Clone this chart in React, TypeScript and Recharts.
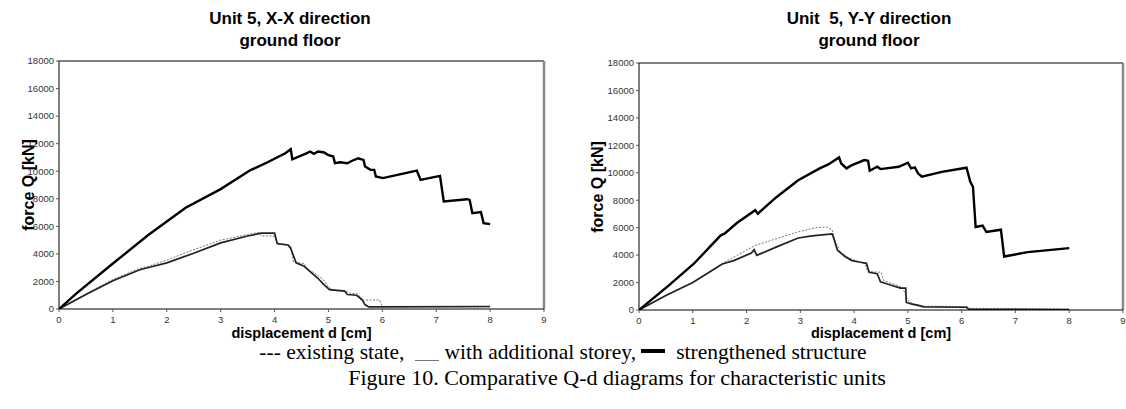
import React from "react";
import { LineChart, Line, XAxis, YAxis, ReferenceLine } from "recharts";

// displacement ticks [cm] and force ticks [kN]
const dTicks = [0, 1, 2, 3, 4, 5, 6, 7, 8, 9];
const qTicks = [0, 2000, 4000, 6000, 8000, 10000, 12000, 14000, 16000, 18000];

// Unit 5, X-X direction — [d, Q]
const xxStrengthened = [
  [0, 0], [0.33, 1150], [1, 3300], [1.65, 5350], [2, 6350], [2.35, 7350], [3, 8700],
  [3.54, 10050], [3.87, 10650], [4.2, 11300], [4.3, 11600], [4.33, 10870], [4.59, 11300],
  [4.66, 11430], [4.73, 11260], [4.81, 11430], [4.92, 11360], [4.99, 11190], [5.09, 11070],
  [5.12, 10580], [5.22, 10650], [5.35, 10580], [5.45, 10780], [5.55, 10940], [5.65, 10820],
  [5.68, 10340], [5.78, 10100], [5.85, 10100], [5.88, 9620], [6.01, 9500], [6.64, 10050],
  [6.71, 9370], [7.07, 9660], [7.14, 7800], [7.57, 7970], [7.62, 7920], [7.67, 6960],
  [7.83, 7030], [7.88, 6230], [8, 6160],
];
const xxStorey = [
  [0, 0], [0.5, 1050], [1, 2050], [1.5, 2850], [1.7, 3050], [2, 3350], [2.5, 4050], [3, 4800],
  [3.5, 5300], [3.75, 5500], [4.0, 5500], [4.05, 4750], [4.25, 4650], [4.3, 4400], [4.4, 3350],
  [4.55, 3100], [4.65, 2750], [4.8, 2250], [4.92, 1750], [5.02, 1400], [5.3, 1300], [5.35, 1050],
  [5.52, 1000], [5.62, 700], [5.68, 300], [5.75, 150], [8, 180],
];
const xxExisting = [
  [0, 0], [0.5, 1100], [1, 2150], [1.5, 2950], [1.7, 3150], [2, 3550], [2.5, 4300], [3, 5000],
  [3.5, 5400], [3.7, 5550], [3.75, 5300], [4.0, 5300], [4.05, 4700], [4.3, 4600], [4.35, 3400],
  [4.55, 3300], [4.6, 2900], [4.75, 2600], [4.9, 2150], [5.0, 1600], [5.1, 1350], [5.3, 1350],
  [5.4, 1150], [5.55, 1100], [5.6, 650], [5.95, 650], [6.0, 150], [8, 150],
];

// Unit 5, Y-Y direction — [d, Q]
const yyStrengthened = [
  [0, 0], [0.55, 1780], [1.02, 3370], [1.52, 5440], [1.59, 5560], [1.82, 6340], [2.16, 7270],
  [2.21, 7020], [2.56, 8240], [2.96, 9460], [3.36, 10320], [3.52, 10610], [3.72, 11120],
  [3.76, 10680], [3.86, 10320], [3.96, 10560], [4.19, 10930], [4.26, 10880], [4.29, 10150],
  [4.43, 10440], [4.49, 10270], [4.83, 10440], [5.0, 10730], [5.06, 10320], [5.13, 10390],
  [5.19, 9950], [5.26, 9710], [5.63, 10070], [6.09, 10370], [6.16, 9340], [6.21, 8980],
  [6.26, 6050], [6.39, 6150], [6.46, 5680], [6.73, 5850], [6.79, 3900], [7.23, 4220], [8, 4510],
];
const yyStorey = [
  [0, 0], [0.5, 1050], [1, 2000], [1.55, 3350], [1.76, 3600], [2.09, 4150], [2.14, 4400],
  [2.19, 3980], [2.56, 4600], [2.96, 5250], [3.22, 5400], [3.59, 5550], [3.62, 5250], [3.69, 4350],
  [3.83, 3900], [3.96, 3600], [4.09, 3500], [4.23, 3400], [4.28, 2750], [4.43, 2650], [4.49, 2050],
  [4.69, 1800], [4.86, 1600], [4.96, 1600], [4.97, 550], [5.06, 450], [5.23, 300], [5.29, 230],
  [6.09, 200], [6.13, 70], [8, 30],
];
const yyExisting = [
  [0, 0], [0.5, 1050], [1, 2000], [1.55, 3400], [2.16, 4700], [2.56, 5200], [2.96, 5700],
  [3.29, 6000], [3.49, 6050], [3.59, 5850], [3.65, 5000], [3.75, 4200], [3.9, 3800], [4.1, 3500],
  [4.2, 3400], [4.25, 2800], [4.5, 2750], [4.55, 2150], [4.9, 1650], [5.0, 700], [5.1, 450],
  [5.3, 280], [6.1, 250], [6.15, 120], [8, 60],
];

const toPts = (arr: number[][]) => arr.map(([d, q]) => ({ d, q }));

const sans = "'Liberation Sans', Arial, sans-serif";
const serif = "'Liberation Serif', 'Times New Roman', serif";

function Panel(props: any) {
  const { x, w, plot, title, existing, storey, strengthened } = props;
  const H = 340;
  const yAxisW = 40;
  const xAxisH = 30;
  const margin = {
    top: plot.top,
    left: plot.left - yAxisW,
    right: w - plot.right,
    bottom: H - plot.bottom - xAxisH,
  };
  const cx = (plot.left + plot.right) / 2;
  return (
    <div style={{ position: "absolute", left: x, top: 0, width: w, height: H }}>
      <LineChart width={w} height={H} margin={margin}>
        <XAxis
          type="number"
          dataKey="d"
          domain={[0, 9]}
          ticks={dTicks}
          height={xAxisH}
          tickSize={3}
          tickMargin={4}
          stroke="#000"
          tickLine={{ stroke: "#555" }}
          tick={{ fontSize: 9.5, fill: "#333", fontFamily: sans }}
          allowDataOverflow
        />
        <YAxis
          type="number"
          dataKey="q"
          domain={[0, 18000]}
          ticks={qTicks}
          width={yAxisW}
          tickSize={3}
          tickMargin={2}
          stroke="#000"
          tickLine={{ stroke: "#555" }}
          tick={{ fontSize: 9.5, fill: "#333", fontFamily: sans }}
          allowDataOverflow
        />
        <ReferenceLine y={18000} stroke="#000" strokeWidth={1.2} />
        <ReferenceLine x={9} stroke="#888" strokeWidth={2.5} />
        <Line data={toPts(existing)} dataKey="q" type="linear" stroke="#777" strokeWidth={1}
          strokeDasharray="2 1.5" dot={false} isAnimationActive={false} />
        <Line data={toPts(storey)} dataKey="q" type="linear" stroke="#222" strokeWidth={1.7}
          dot={false} isAnimationActive={false} />
        <Line data={toPts(strengthened)} dataKey="q" type="linear" stroke="#000" strokeWidth={2.4}
          dot={false} isAnimationActive={false} />
      </LineChart>
      <div style={{ position: "absolute", left: props.titleX - x, top: 8, transform: "translateX(-50%)",
        textAlign: "center", fontFamily: sans, fontWeight: "bold", fontSize: 17, lineHeight: "22px",
        whiteSpace: "pre" }}>
        {title}
        <br />
        ground floor
      </div>
      <div style={{ position: "absolute", left: props.yLabelX - x, top: (plot.top + plot.bottom) / 2,
        transform: "translate(-50%, -50%) rotate(-90deg)", fontFamily: sans, fontWeight: "bold",
        fontSize: 16, whiteSpace: "nowrap" }}>
        force Q [kN]
      </div>
      <div style={{ position: "absolute", left: cx, top: 325, transform: "translateX(-50%)",
        fontFamily: sans, fontWeight: "bold", fontSize: 14.5, whiteSpace: "nowrap", lineHeight: "16px" }}>
        displacement d [cm]
      </div>
    </div>
  );
}

export default function App() {
  return (
    <div style={{ position: "absolute", left: 0, top: 0, width: 1126, height: 409, background: "#fff",
      overflow: "hidden" }}>
      <Panel
        x={0}
        w={560}
        plot={{ left: 59, right: 544, top: 61, bottom: 309 }}
        titleX={290}
        yLabelX={29}
        title="Unit 5, X-X direction"
        existing={xxExisting}
        storey={xxStorey}
        strengthened={xxStrengthened}
      />
      <Panel
        x={560}
        w={566}
        plot={{ left: 79, right: 563, top: 63, bottom: 310 }}
        titleX={869}
        yLabelX={598}
        title="Unit  5, Y-Y direction"
        existing={yyExisting}
        storey={yyStorey}
        strengthened={yyStrengthened}
      />
      <div style={{ position: "absolute", left: 0, width: 1126, top: 340, textAlign: "center",
        fontFamily: serif, color: "#000" }}>
        <div style={{ whiteSpace: "pre", fontSize: 21.5, lineHeight: "25px" }}>
          {"--- existing state,  "}
          <span style={{ display: "inline-block", width: 24, height: 0, borderBottom: "1.5px solid #777",
            verticalAlign: "-2px" }} />
          {" with additional storey, "}
          <span style={{ display: "inline-block", width: 24, height: 0, borderBottom: "4px solid #000",
            verticalAlign: "6px" }} />
          {"  strengthened structure"}
        </div>
        <div style={{ fontSize: 22, lineHeight: "25px", marginLeft: 108 }}>
          Figure 10. Comparative Q-d diagrams for characteristic units
        </div>
      </div>
    </div>
  );
}
